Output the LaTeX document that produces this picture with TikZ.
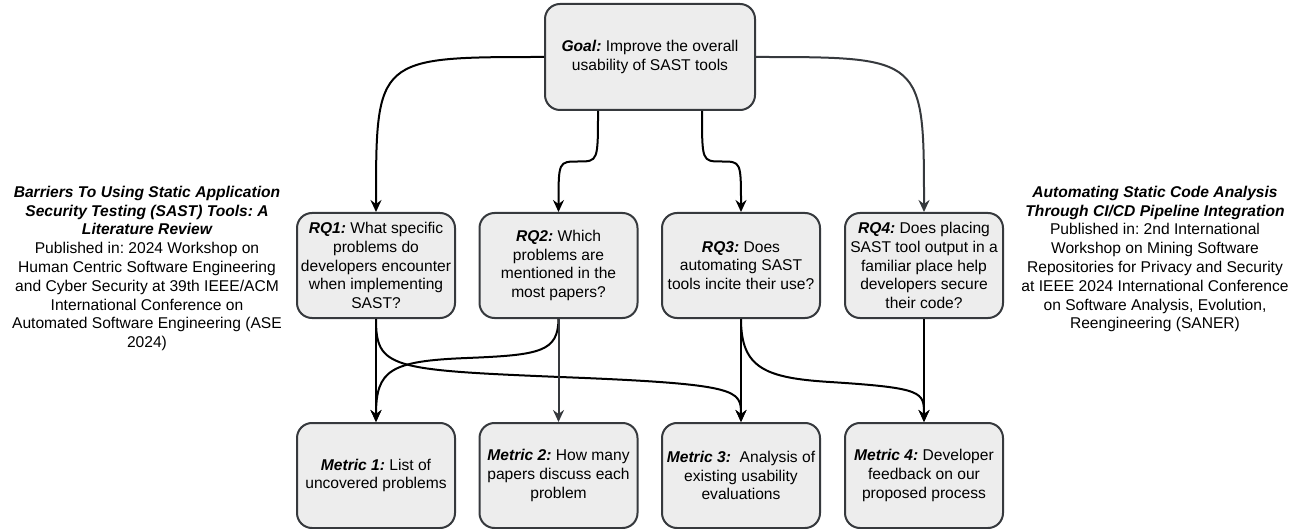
\documentclass[tikz,border=0pt]{standalone}
\usepackage{fontspec}
\setmainfont{Liberation Sans}
\usetikzlibrary{arrows.meta, calc}
\colorlet{BoxFill}{black!7}
\definecolor{BoxLine}{HTML}{36393D}
\newcommand{\diagfont}{\fontsize{15.6}{18.8}\selectfont\frenchspacing}
\newcommand{\hd}[1]{{\bfseries\itshape #1}}
\tikzset{
  box/.style={draw=BoxLine, fill=BoxFill, line width=2pt, rounded corners=15pt,
    minimum width=158pt, minimum height=105pt, inner sep=2pt, align=center, font=\diagfont},
  goalbox/.style={box, minimum width=210pt, minimum height=106pt},
  paper/.style={align=center, inner sep=0pt, font=\diagfont},
  flow/.style={line width=2pt, -{Stealth[length=12pt, width=11pt, inset=4pt]}},
  flowgray/.style={flow, draw=BoxLine},
}

\begin{document}
\begin{tikzpicture}[x=1pt, y=-1pt]
    \useasboundingbox (0,0) rectangle (1298,529);

    % Objetivo
    \node[goalbox] (goal) at (650,57) {\hd{Goal:} Improve the overall\\usability of SAST tools};

    % Preguntas de investigacion
    \node[box] (rq1) at (376,265.5) {\hd{RQ1:} What specific\\problems do\\developers encounter\\when implementing\\SAST?};
    \node[box] (rq2) at (558.5,265.5) {\hd{RQ2:} Which\\problems are\\mentioned in the\\most papers?};
    \node[box] (rq3) at (741,265.5) {\hd{RQ3:} Does\\automating SAST\\tools incite their use?};
    \node[box] (rq4) at (924,265.5) {\hd{RQ4:} Does placing\\SAST tool output in a\\familiar place help\\developers secure\\their code?};

    % Metricas
    \node[box] (met1) at (376,475.5) {\hd{Metric 1:} List of\\uncovered problems};
    \node[box] (met2) at (558.5,475.5) {\hd{Metric 2:} How many\\papers discuss each\\problem};
    \node[box] (met3) at (741,475.5) {\hd{Metric 3:}\ \ Analysis of\\existing usability\\evaluations};
    \node[box] (met4) at (924,475.5) {\hd{Metric 4:} Developer\\feedback on our\\proposed process};

    % Publicaciones
    \node[paper] (paper1) at (147,268.5) {\hd{Barriers To Using Static Application}\\\hd{Security Testing (SAST) Tools: A}\\\hd{Literature Review}\\Published in: 2024 Workshop on\\Human Centric Software Engineering\\and Cyber Security at 39th IEEE/ACM\\International Conference on\\Automated Software Engineering (ASE\\2024)};
    \node[paper] (paper2) at (1155,259) {\hd{Automating Static Code Analysis}\\\hd{Through CI/CD Pipeline Integration}\\Published in: 2nd International\\Workshop on Mining Software\\Repositories for Privacy and Security\\at IEEE 2024 International Conference\\on Software Analysis, Evolution,\\Reengineering (SANER)};

    % Salidas del objetivo
    \coordinate (g2) at ($(goal.south)+(-52,0)$);
    \coordinate (g3) at ($(goal.south)+(52,0)$);
    \coordinate (h2) at ($(g2)!0.5!(rq2.north)$);
    \coordinate (h3) at ($(g3)!0.5!(rq3.north)$);

    \draw[flow] (goal.west) .. controls (rq1.north |- goal.west) .. (rq1.north);
    \draw[flow] (g2) .. controls (g2 |- h2) .. (h2) .. controls (rq2.north |- h2) .. (rq2.north);
    \draw[flow] (g3) .. controls (g3 |- h3) .. (h3) .. controls (rq3.north |- h3) .. (rq3.north);
    \draw[flowgray] (goal.east) .. controls (rq4.north |- goal.east) .. (rq4.north);

    % Preguntas a metricas
    \draw[flow] (rq1.south) -- (met1.north);
    \draw[flow] (rq1.south) .. controls (376,368) and (390,370) .. (560,377)
        .. controls (741,384) and (741,390) .. (met3.north);
    \draw[flow] (rq2.south) .. controls (558,352) and (540,355) .. (467,358)
        .. controls (390,361) and (376,370) .. (met1.north);
    \draw[flowgray] (rq2.south) -- (met2.north);
    \draw[flow] (rq3.south) -- (met3.north);
    \draw[flow] (rq3.south) .. controls (741,368) and (765,378) .. (830,382)
        .. controls (924,388) and (924,392) .. (met4.north);
    \draw[flow] (rq4.south) -- (met4.north);
\end{tikzpicture}
\end{document}
